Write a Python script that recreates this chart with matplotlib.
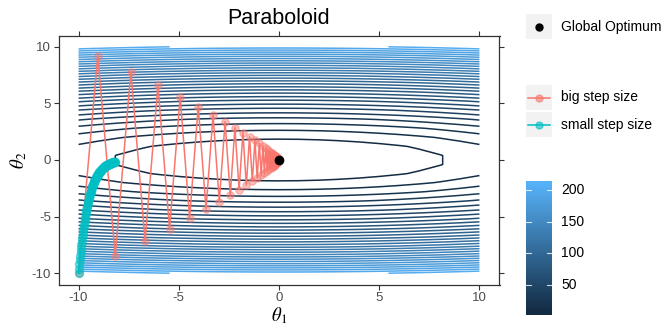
import numpy as np
import matplotlib
matplotlib.use("Agg")
import matplotlib.pyplot as plt
from matplotlib.colors import LinearSegmentedColormap, Normalize
from matplotlib.patches import Rectangle

plt.rcParams['font.family'] = ['Liberation Sans', 'DejaVu Sans']
plt.rcParams['mathtext.fontset'] = 'stix'

# ---------------- data ----------------
# paraboloid surface f = a*theta1^2 + b*theta2^2 on a coarse grid
coef_a = 0.1
coef_b = 2.0
grid_theta1 = [-10, -9, -8, -7, -6, -5, -4, -3, -2, -1, 0, 1, 2, 3, 4, 5, 6, 7, 8, 9, 10]
grid_theta2 = [-10.0, -9.2, -8.4, -7.6, -6.8, -6.0, -5.2, -4.4, -3.6, -2.8, -2.0, -1.2, -0.4,
               0.4, 1.2, 2.0, 2.8, 3.6, 4.4, 5.2, 6.0, 6.8, 7.6, 8.4, 9.2, 10.0]
contour_levels = [7, 14, 21, 28, 35, 42, 49, 56, 63, 70, 77, 84, 91, 98, 105,
                  112, 119, 126, 133, 140, 147, 154, 161, 168, 175, 182, 189, 196, 203, 210]

big_theta1 = [-10.00, -9.04, -8.17, -7.39, -6.68, -6.04, -5.46, -4.93, -4.46, -4.03,
              -3.64, -3.29, -2.98, -2.69, -2.43, -2.20, -1.99, -1.80, -1.63, -1.47,
              -1.33, -1.20, -1.09, -0.98, -0.89, -0.80, -0.73, -0.66, -0.59, -0.54,
              -0.48, -0.44, -0.40, -0.36, -0.32, -0.29, -0.26, -0.24, -0.22, -0.20,
              -0.18, -0.16, -0.14, -0.13, -0.12, -0.11, -0.10, -0.09, -0.08, -0.07,
              -0.06]
big_theta2 = [-10.00, 9.20, -8.46, 7.79, -7.16, 6.59, -6.06, 5.58, -5.13, 4.72,
              -4.34, 4.00, -3.68, 3.38, -3.11, 2.86, -2.63, 2.42, -2.23, 2.05,
              -1.89, 1.74, -1.60, 1.47, -1.35, 1.24, -1.14, 1.05, -0.97, 0.89,
              -0.82, 0.75, -0.69, 0.64, -0.59, 0.54, -0.50, 0.46, -0.42, 0.39,
              -0.36, 0.33, -0.30, 0.28, -0.26, 0.23, -0.22, 0.20, -0.18, 0.17,
              -0.15]

small_theta1 = [-10.00, -9.98, -9.96, -9.94, -9.92, -9.90, -9.88, -9.86, -9.84, -9.82,
                -9.80, -9.78, -9.76, -9.74, -9.72, -9.70, -9.69, -9.67, -9.65, -9.63,
                -9.61, -9.59, -9.57, -9.55, -9.53, -9.51, -9.49, -9.47, -9.46, -9.44,
                -9.42, -9.40, -9.38, -9.36, -9.34, -9.32, -9.31, -9.29, -9.27, -9.25,
                -9.23, -9.21, -9.19, -9.17, -9.16, -9.14, -9.12, -9.10, -9.08, -9.06,
                -9.05, -9.03, -9.01, -8.99, -8.97, -8.96, -8.94, -8.92, -8.90, -8.88,
                -8.87, -8.85, -8.83, -8.81, -8.80, -8.78, -8.76, -8.74, -8.73, -8.71,
                -8.69, -8.67, -8.66, -8.64, -8.62, -8.61, -8.59, -8.57, -8.55, -8.54,
                -8.52, -8.50, -8.49, -8.47, -8.45, -8.44, -8.42, -8.40, -8.39, -8.37,
                -8.35, -8.34, -8.32, -8.30, -8.29, -8.27, -8.25, -8.24, -8.22, -8.20,
                -8.19]
small_theta2 = [-10.00, -9.60, -9.22, -8.85, -8.49, -8.15, -7.83, -7.51, -7.21, -6.93,
                -6.65, -6.38, -6.13, -5.88, -5.65, -5.42, -5.20, -5.00, -4.80, -4.60,
                -4.42, -4.24, -4.07, -3.91, -3.75, -3.60, -3.46, -3.32, -3.19, -3.06,
                -2.94, -2.82, -2.71, -2.60, -2.50, -2.40, -2.30, -2.21, -2.12, -2.04,
                -1.95, -1.88, -1.80, -1.73, -1.66, -1.59, -1.53, -1.47, -1.41, -1.35,
                -1.30, -1.25, -1.20, -1.15, -1.10, -1.06, -1.02, -0.98, -0.94, -0.90,
                -0.86, -0.83, -0.80, -0.76, -0.73, -0.70, -0.68, -0.65, -0.62, -0.60,
                -0.57, -0.55, -0.53, -0.51, -0.49, -0.47, -0.45, -0.43, -0.41, -0.40,
                -0.38, -0.37, -0.35, -0.34, -0.32, -0.31, -0.30, -0.29, -0.28, -0.26,
                -0.25, -0.24, -0.23, -0.22, -0.22, -0.21, -0.20, -0.19, -0.18, -0.18,
                -0.17]

optimum = [0.0, 0.0]
tick_vals = [-10, -5, 0, 5, 10]
cbar_ticks = [50, 100, 150, 200]
series_labels = ["big step size", "small step size"]
series_colors = ["#F8766D", "#00BFC4"]
optimum_label = "Global Optimum"
title = "Paraboloid"

# ---------------- figure ----------------
W, H = 661, 326
DPI = 100
fig = plt.figure(figsize=(W / DPI, H / DPI), dpi=DPI)

def px_axes(x0, y0, x1, y1):
    return fig.add_axes([x0 / W, 1 - y1 / H, (x1 - x0) / W, (y1 - y0) / H])

ax = px_axes(58.5, 35.5, 499.5, 284.5)

cmap = LinearSegmentedColormap.from_list("gg", ["#132B43", "#56B1F7"])
norm = Normalize(vmin=min(contour_levels), vmax=max(contour_levels))

gx, gy = np.meshgrid(np.array(grid_theta1, float), np.array(grid_theta2, float))
gz = coef_a * gx ** 2 + coef_b * gy ** 2
ax.contour(gx, gy, gz, levels=contour_levels, cmap=cmap, norm=norm, linewidths=1.1, zorder=1)

ax.plot(big_theta1, big_theta2, color=series_colors[0], lw=1.1, zorder=3)
ax.plot(big_theta1, big_theta2, 'o', ms=5.2, mfc=series_colors[0], mec=series_colors[0],
        alpha=0.45, zorder=3)
ax.plot(small_theta1, small_theta2, color=series_colors[1], lw=1.1, zorder=4)
ax.plot(small_theta1, small_theta2, 'o', ms=5.8, mfc=series_colors[1], mec=series_colors[1],
        alpha=0.5, zorder=4)
ax.plot([optimum[0]], [optimum[1]], 'o', ms=6, color='black', zorder=5)

ax.set_xlim(-11, 11)
ax.set_ylim(-11, 11)
ax.set_xticks(tick_vals)
ax.set_yticks(tick_vals)
ax.set_xticklabels([str(v) for v in tick_vals])
ax.set_yticklabels([str(v) for v in tick_vals])
ax.tick_params(axis='both', which='both', direction='out', length=3.5, width=0.8,
               color='#333333', labelcolor='#4D4D4D', labelsize=9.5, pad=2,
               top=True, right=True, labeltop=False, labelright=False)
for s in ax.spines.values():
    s.set_color('#333333')
    s.set_linewidth(0.9)

ax.set_xlabel(r'$\theta_1$', fontsize=13.5, labelpad=1)
ax.set_ylabel(r'$\theta_2$', fontsize=13.5, labelpad=2)
ax.set_title(title, fontsize=15.5, pad=8)

# ---------------- legends ----------------
leg = fig.add_axes([0, 0, 1, 1])
leg.set_xlim(0, W)
leg.set_ylim(H, 0)
leg.axis('off')
leg.patch.set_alpha(0)

key_bg = '#F2F2F2'
kx0, kx1 = 526, 551.5
leg.add_patch(Rectangle((kx0, 14), kx1 - kx0, 25, color=key_bg, lw=0))
leg.plot([(kx0 + kx1) / 2], [26.5], 'o', ms=5, color='black')
leg.text(561, 26.5, optimum_label, fontsize=10, va='center', ha='left', color='black')

key_centers = [97.5, 124.5]
for lab, col, cy in zip(series_labels, series_colors, key_centers):
    leg.add_patch(Rectangle((kx0, cy - 12.5), kx1 - kx0, 25, color=key_bg, lw=0))
    leg.plot([kx0 + 1.5, kx1 - 1.5], [cy, cy], color=col, lw=1.1)
    leg.plot([(kx0 + kx1) / 2], [cy], 'o', ms=5, color=col, alpha=0.6)
    leg.text(561, cy, lab, fontsize=10, va='center', ha='left', color='black')

# colour bar
cb_lo, cb_hi = 2.0, 215.0
cax = px_axes(526, 181, 552, 315)
grad = np.linspace(cb_lo, cb_hi, 256).reshape(-1, 1)
cax.imshow(grad, aspect='auto', cmap=cmap, norm=norm, origin='lower',
           extent=[0, 1, cb_lo, cb_hi])
cax.set_xlim(0, 1)
cax.set_ylim(cb_lo, cb_hi)
cax.set_xticks([])
cax.set_yticks([])
for s in cax.spines.values():
    s.set_visible(False)
for t in cbar_ticks:
    cax.plot([0, 0.2], [t, t], color='white', lw=0.8, alpha=0.8)
    cax.plot([0.8, 1], [t, t], color='white', lw=0.8, alpha=0.8)
    cax.text(1.0 + 9 / 26, t, str(t), fontsize=10, va='center', ha='left',
             transform=cax.transData, clip_on=False)

fig.savefig('out.png', dpi=DPI)
